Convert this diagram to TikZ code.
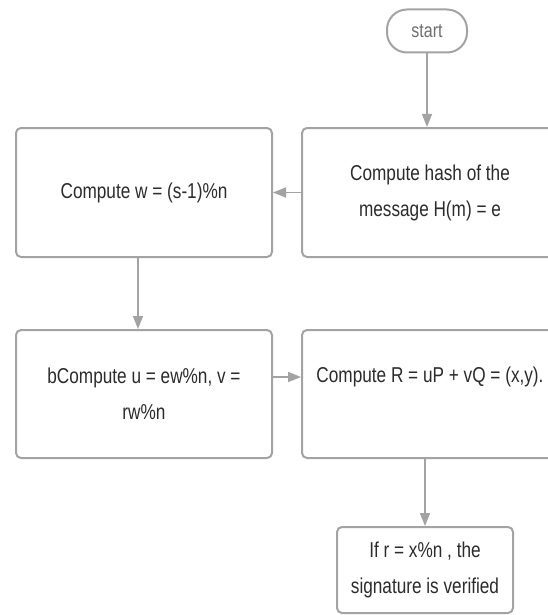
\documentclass[tikz,border=0pt]{standalone}
\usepackage{fontspec}
\setmainfont{Liberation Sans}[FakeStretch=0.8]
\usetikzlibrary{arrows.meta}
\definecolor{lineGray}{HTML}{A3A3A3}
\definecolor{textGray}{HTML}{2B2B2B}
\definecolor{startGray}{HTML}{6E6E6E}

\begin{document}
\begin{tikzpicture}[x=1pt, y=-1pt,
        stepbox/.style = {draw=lineGray, line width=2pt, rounded corners=5pt, align=center, text=textGray, font=\fontsize{21.5}{36}\selectfont},
        startbox/.style = {draw=lineGray, line width=2pt, rounded corners=20pt, minimum width=80pt, minimum height=43pt, text=startGray, font=\fontsize{20}{22}\selectfont},
        flow/.style = {draw=lineGray, line width=1.6pt, -{Triangle[length=13pt, width=10pt]}}]
        \useasboundingbox (0,0) rectangle (547,615);
        \node[startbox] (start) at (427,31) {start};
        \node[stepbox, minimum width=256pt, minimum height=129pt] (hash) at (430,192.5) {Compute hash of the\\message H(m) = e};
        \node[stepbox, minimum width=256pt, minimum height=129pt] (wbox) at (144,192.5) {Compute w = (s-1)\%n};
        \node[stepbox, minimum width=256pt, minimum height=128pt] (ubox) at (144,394) {bCompute u = ew\%n, v =\\rw\%n};
        \node[stepbox, minimum width=256pt, minimum height=128pt, text height=15pt, text depth=39pt] (rbox) at (430,394) {Compute R = uP + vQ = (x,y).};
        \node[stepbox, minimum width=176pt, minimum height=86pt] (vbox) at (425,570) {If r = x\%n , the\\signature is verified};
        \draw[flow] (start.south) -- (start.south |- hash.north);
        \draw[flow] (hash.west) -- (wbox.east);
        \draw[flow] ([xshift=-6pt]wbox.south) -- ([xshift=-6pt]ubox.north);
        \draw[flow] ([yshift=17pt]ubox.east) -- ([yshift=17pt]rbox.west);
        \draw[flow] (rbox.south -| vbox.north) -- (vbox.north);
    \end{tikzpicture}
\end{document}
